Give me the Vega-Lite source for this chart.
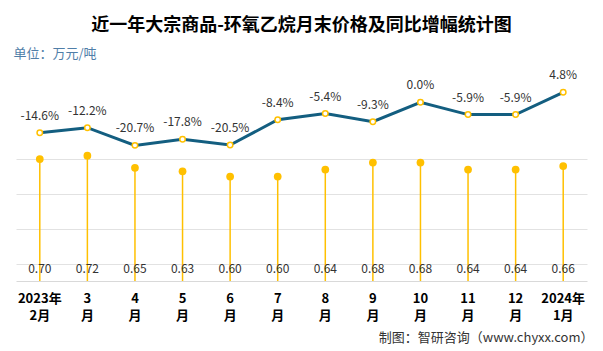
{
  "$schema": "https://vega.github.io/schema/vega-lite/v6.json",
  "width": 571,
  "height": 221,
  "autosize": {"type": "none"},
  "padding": {"left": 16, "top": 60, "right": 16, "bottom": 70},
  "background": "white",
  "config": {
    "view": {"stroke": null},
    "font": "Noto Sans CJK SC",
    "locale": {"number": {"decimal": ".", "thousands": ",", "grouping": [3], "currency": ["", ""], "minus": "-"}}
  },
  "title": {
    "text": "近一年大宗商品-环氧乙烷月末价格及同比增幅统计图",
    "font": "Noto Sans CJK SC",
    "fontSize": 18,
    "fontWeight": "bold",
    "color": "#000000",
    "anchor": "middle",
    "frame": "group",
    "offset": 12
  },
  "data": {
    "values": [
      {"month": "2023年|2月", "price": 0.70, "growth": -0.146},
      {"month": "3|月", "price": 0.72, "growth": -0.122},
      {"month": "4|月", "price": 0.65, "growth": -0.207},
      {"month": "5|月", "price": 0.63, "growth": -0.178},
      {"month": "6|月", "price": 0.60, "growth": -0.205},
      {"month": "7|月", "price": 0.60, "growth": -0.084},
      {"month": "8|月", "price": 0.64, "growth": -0.054},
      {"month": "9|月", "price": 0.68, "growth": -0.093},
      {"month": "10|月", "price": 0.68, "growth": 0.0},
      {"month": "11|月", "price": 0.64, "growth": -0.059},
      {"month": "12|月", "price": 0.64, "growth": -0.059},
      {"month": "2024年|1月", "price": 0.66, "growth": 0.048}
    ]
  },
  "encoding": {
    "x": {
      "field": "month",
      "type": "nominal",
      "sort": null,
      "scale": {"paddingInner": 0, "paddingOuter": 0},
      "axis": {
        "labelExpr": "split(datum.label, '|')",
        "labelAngle": 0,
        "labelFont": "Noto Sans CJK SC",
        "labelFontSize": 13,
        "labelFontWeight": "bold",
        "labelColor": "#000000",
        "labelLineHeight": 17.5,
        "labelPadding": 11,
        "labelBaseline": "top",
        "ticks": false,
        "domainColor": "#d9d9d9",
        "domainWidth": 1,
        "title": "制图：智研咨询（www.chyxx.com）",
        "titleFont": "Noto Sans CJK SC",
        "titleFontSize": 13,
        "titleFontWeight": "normal",
        "titleColor": "#333333",
        "titleAlign": "right",
        "titleBaseline": "middle",
        "titleX": 577,
        "titleY": 56
      }
    }
  },
  "layer": [
    {
      "encoding": {
        "y": {
          "field": "price",
          "type": "quantitative",
          "scale": {"domain": [0, 1.2692], "nice": false, "zero": true}
        }
      },
      "layer": [
        {
          "mark": {"type": "rule", "color": "#FFC000", "strokeWidth": 1.5},
          "encoding": {
            "y2": {"datum": 0},
            "y": {
              "field": "price",
              "type": "quantitative",
              "axis": {
                "orient": "left",
                "values": [0.1, 0.2, 0.3, 0.4, 0.5, 0.6, 0.7, 0.8],
                "grid": true,
                "gridColor": "#e2e2e2",
                "gridWidth": 1,
                "labels": false,
                "ticks": false,
                "domain": false,
                "title": "单位：万元/吨",
                "titleAngle": 0,
                "titleAlign": "left",
                "titleBaseline": "middle",
                "titleX": -3,
                "titleY": -7,
                "titleFont": "Noto Sans CJK SC",
                "titleFontSize": 13,
                "titleFontWeight": "normal",
                "titleColor": "#4F7EA8"
              }
            }
          }
        },
        {
          "mark": {"type": "point", "filled": true, "color": "#FFC000", "size": 60, "opacity": 1}
        },
        {
          "mark": {"type": "text", "fontSize": 12, "color": "#333333", "baseline": "middle", "dy": -12, "font": "Noto Sans CJK SC"},
          "encoding": {
            "y": {"datum": 0},
            "text": {"field": "price", "type": "quantitative", "format": ".2f"}
          }
        }
      ]
    },
    {
      "encoding": {
        "y": {
          "field": "growth",
          "type": "quantitative",
          "scale": {"domain": [-0.859, 0.2034], "nice": false, "zero": false},
          "axis": null
        }
      },
      "layer": [
        {
          "mark": {"type": "line", "color": "#135E80", "strokeWidth": 3}
        },
        {
          "mark": {"type": "point", "filled": true, "fill": "white", "stroke": "#FFC000", "strokeWidth": 1.5, "size": 30, "opacity": 1}
        },
        {
          "mark": {"type": "text", "fontSize": 12, "color": "#333333", "baseline": "middle", "dy": -17, "font": "Noto Sans CJK SC"},
          "encoding": {
            "text": {"field": "growth", "type": "quantitative", "format": ".1%"}
          }
        }
      ]
    }
  ],
  "resolve": {"scale": {"y": "independent"}}
}
